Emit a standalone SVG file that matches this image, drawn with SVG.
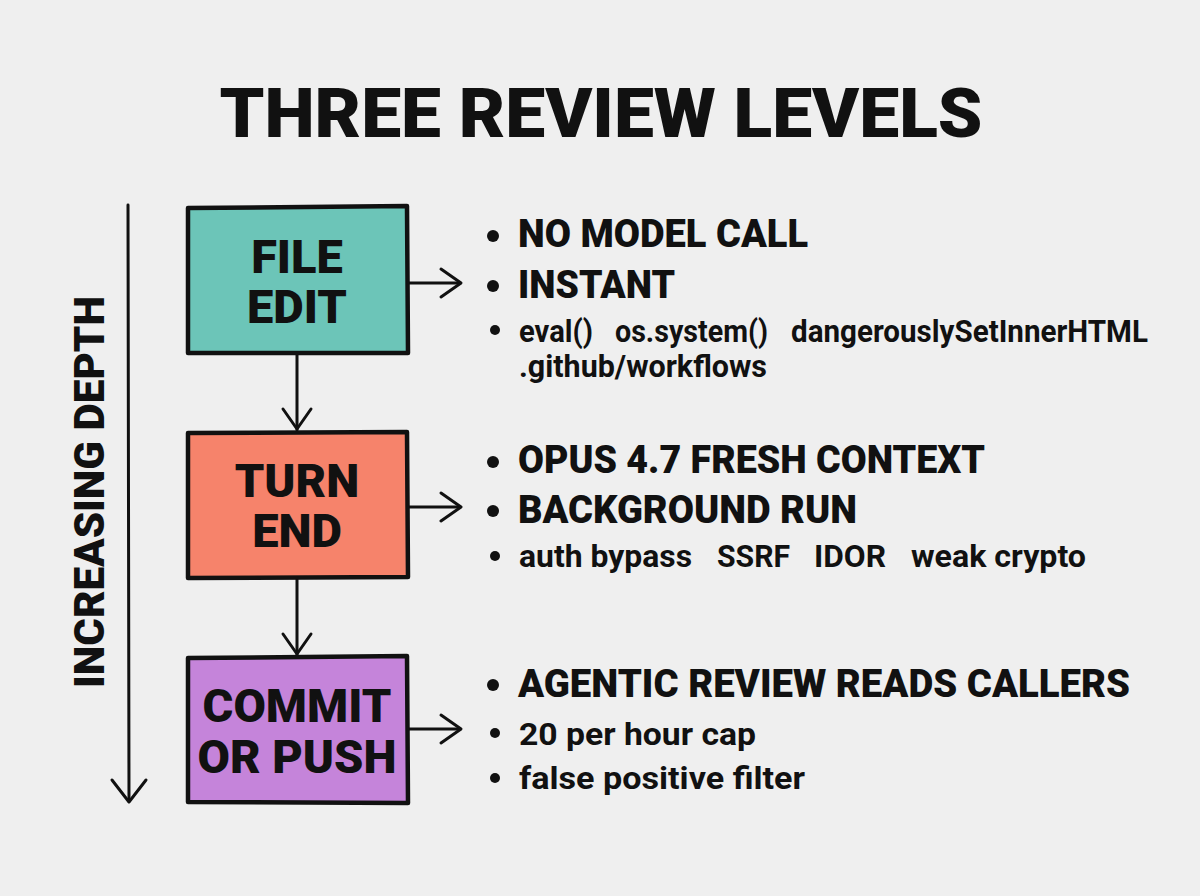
<svg xmlns="http://www.w3.org/2000/svg" width="1200" height="896" viewBox="0 0 1200 896">
  <style>
    .t { font-family: "Roboto", "Liberation Sans", sans-serif; font-weight: 900; fill: #111; }
    .title { font-size: 69px; }
    .box { stroke: #111; stroke-width: 4.5; stroke-linejoin: round; }
    .lbl { font-size: 47px; text-anchor: middle; }
    .big { font-size: 38px; }
    .small { font-size: 32px; font-weight: 700; }
    .side { font-size: 43px; text-anchor: middle; }
    .line { stroke: #111; stroke-width: 3; fill: none; stroke-linecap: round; stroke-linejoin: round; }
    .dot { fill: #111; }
  </style>
  <rect width="1200" height="896" fill="#efefef"/>

  <text class="t title" x="601" y="137" text-anchor="middle" textLength="763" lengthAdjust="spacingAndGlyphs">THREE REVIEW LEVELS</text>

  <!-- depth axis -->
  <g id="depth-axis">
    <path class="line" d="M128 205 L129 801"/>
    <path class="line" d="M112 780 L129 802 L146 780"/>
    <text class="t side" transform="translate(104 492) rotate(-90)" textLength="392" lengthAdjust="spacingAndGlyphs">INCREASING DEPTH</text>
  </g>

  <!-- connectors -->
  <g id="connectors">
    <path class="line" d="M297 354 L297 430"/>
    <path class="line" d="M283 409 L297 429 L311 409"/>
    <path class="line" d="M297 579 L297 655"/>
    <path class="line" d="M283 634 L297 654 L311 634"/>
    <path class="line" d="M409 283 L460 283"/>
    <path class="line" d="M441 269 L461 283 L441 297"/>
    <path class="line" d="M409 507 L460 507"/>
    <path class="line" d="M441 493 L461 507 L441 521"/>
    <path class="line" d="M409 729 L460 729"/>
    <path class="line" d="M441 715 L461 729 L441 743"/>
  </g>

  <g id="node-file-edit">
    <path class="box" fill="#6cc5b8" d="M188 208 L407 206 L408 353 L188 353 Z"/>
    <text class="t lbl" x="297" y="273">FILE</text>
    <text class="t lbl" x="297" y="323">EDIT</text>
  </g>

  <g id="node-turn-end">
    <path class="box" fill="#f6836b" d="M188 433 L407 432 L408 577 L188 578 Z"/>
    <text class="t lbl" x="297" y="497">TURN</text>
    <text class="t lbl" x="297" y="547">END</text>
  </g>

  <g id="node-commit-push">
    <path class="box" fill="#c584da" d="M188 658 L407 656 L408 803 L188 802 Z"/>
    <text class="t lbl" x="297" y="722">COMMIT</text>
    <text class="t lbl" x="297" y="773">OR PUSH</text>
  </g>

  <g id="notes-file-edit">
    <circle class="dot" cx="493" cy="236" r="6"/>
    <text class="t big" x="518" y="247" textLength="290" lengthAdjust="spacingAndGlyphs">NO MODEL CALL</text>
    <circle class="dot" cx="493" cy="286" r="6"/>
    <text class="t big" x="518" y="298" textLength="157" lengthAdjust="spacingAndGlyphs">INSTANT</text>
    <circle class="dot" cx="495" cy="330" r="5"/>
    <text class="t small" x="519" y="342" textLength="74" lengthAdjust="spacingAndGlyphs">eval()</text>
    <text class="t small" x="615" y="342" textLength="153" lengthAdjust="spacingAndGlyphs">os.system()</text>
    <text class="t small" x="791" y="342" textLength="357" lengthAdjust="spacingAndGlyphs">dangerouslySetInnerHTML</text>
    <text class="t small" x="519" y="377" textLength="248" lengthAdjust="spacingAndGlyphs">.github/workflows</text>
  </g>

  <g id="notes-turn-end">
    <circle class="dot" cx="493" cy="462" r="6"/>
    <text class="t big" x="518" y="473" textLength="467" lengthAdjust="spacingAndGlyphs">OPUS 4.7 FRESH CONTEXT</text>
    <circle class="dot" cx="493" cy="511" r="6"/>
    <text class="t big" x="518" y="523" textLength="339" lengthAdjust="spacingAndGlyphs">BACKGROUND RUN</text>
    <circle class="dot" cx="495" cy="556" r="5"/>
    <text class="t small" x="519" y="567" textLength="173" lengthAdjust="spacingAndGlyphs">auth bypass</text>
    <text class="t small" x="717" y="567" textLength="73" lengthAdjust="spacingAndGlyphs">SSRF</text>
    <text class="t small" x="814" y="567" textLength="72" lengthAdjust="spacingAndGlyphs">IDOR</text>
    <text class="t small" x="911" y="567" textLength="175" lengthAdjust="spacingAndGlyphs">weak crypto</text>
  </g>

  <g id="notes-commit-push">
    <circle class="dot" cx="493" cy="685" r="6"/>
    <text class="t big" x="518" y="697" textLength="612" lengthAdjust="spacingAndGlyphs">AGENTIC REVIEW READS CALLERS</text>
    <circle class="dot" cx="495" cy="733" r="5"/>
    <text class="t small" x="519" y="745" textLength="237" lengthAdjust="spacingAndGlyphs">20 per hour cap</text>
    <circle class="dot" cx="495" cy="778" r="5"/>
    <text class="t small" x="519" y="789" textLength="286" lengthAdjust="spacingAndGlyphs">false positive filter</text>
  </g>
</svg>
